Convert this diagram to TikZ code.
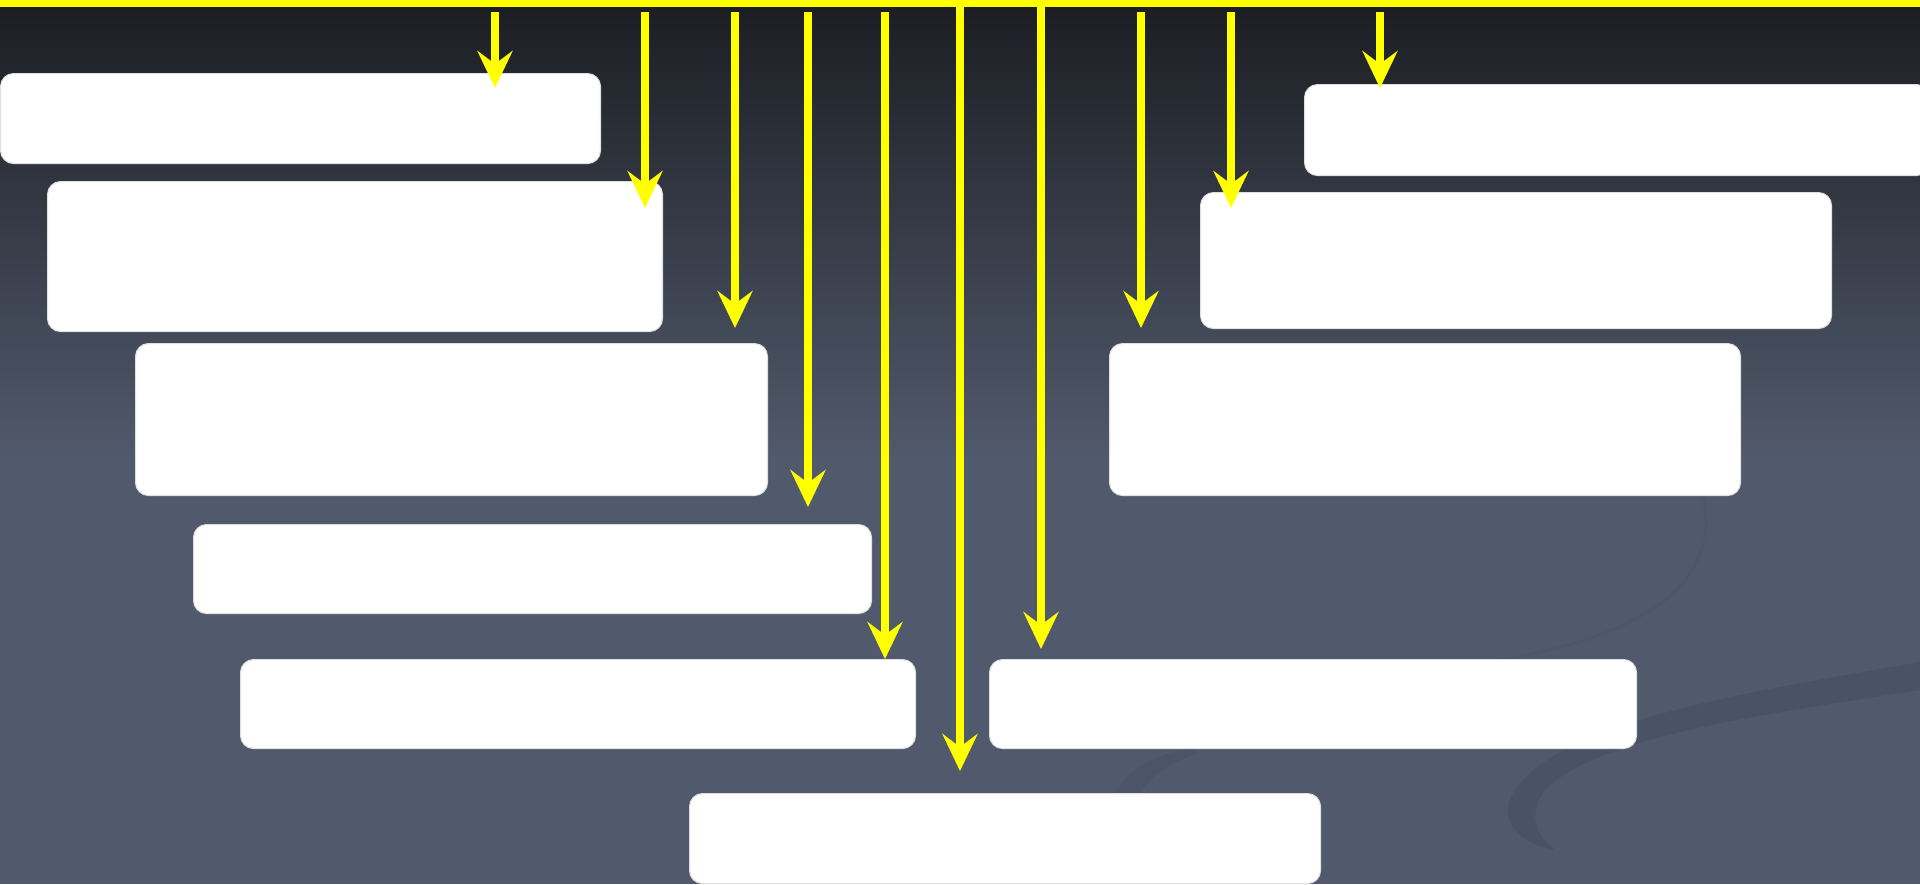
\documentclass[tikz,border=0pt]{standalone}
\usetikzlibrary{arrows.meta}
\definecolor{bgtop}{HTML}{1B1D22}
\definecolor{bgslate}{HTML}{515A6C}
\definecolor{swoosh}{HTML}{485064}
\definecolor{geel}{HTML}{FFFF00}
\tikzset{
  blok/.style={draw=black!12, line width=0.3pt, fill=white, rounded corners=1.3mm,
    anchor=north west, inner sep=0pt},
  pijl/.style={geel, line width=0.8mm, -{Stealth[length=3.7mm, width=3.5mm, inset=1.3mm]}}
}
\begin{document}
\begin{tikzpicture}[x=0.1mm, y=-0.1mm]
\useasboundingbox (0,0) rectangle (1920,884);
\clip (0,0) rectangle (1920,884);
% background
\fill[bgslate] (0,0) rectangle (1920,884);
\shade[top color=bgtop, bottom color=bgslate] (0,0) rectangle (1920,460);
\fill[swoosh, opacity=.7] (1920,662) .. controls (1760,690) and (1560,720) .. (1515,790)
  .. controls (1495,820) and (1520,845) .. (1555,850)
  .. controls (1535,835) and (1525,810) .. (1550,785)
  .. controls (1610,735) and (1760,715) .. (1920,690) -- cycle;
\fill[swoosh, opacity=.5] (1190,748) .. controls (1130,760) and (1105,790) .. (1110,830)
  -- (1130,830) .. controls (1130,795) and (1150,770) .. (1200,752) -- cycle;
\draw[swoosh, line width=0.3mm, opacity=.3] (1702,495) .. controls (1720,560) and (1680,630) .. (1500,660);
% boxes, left side
\node[blok, minimum width=60.0mm, minimum height=9.0mm] (boxA) at (0,73) {};
\node[blok, minimum width=61.5mm, minimum height=15.0mm] (boxB) at (47,181) {};
\node[blok, minimum width=63.2mm, minimum height=15.2mm] (boxC) at (135,343) {};
\node[blok, minimum width=67.8mm, minimum height=8.9mm] (boxD) at (193,524) {};
\node[blok, minimum width=67.5mm, minimum height=8.9mm] (boxE) at (240,659) {};
% bottom box
\node[blok, minimum width=63.1mm, minimum height=9.0mm] (boxF) at (689,793) {};
% boxes, right side
\node[blok, minimum width=64.7mm, minimum height=8.9mm] (boxG) at (989,659) {};
\node[blok, minimum width=63.1mm, minimum height=15.2mm] (boxH) at (1109,343) {};
\node[blok, minimum width=63.1mm, minimum height=13.6mm] (boxI) at (1200,192) {};
\node[blok, minimum width=62.5mm, minimum height=9.1mm] (boxJ) at (1304,84) {};
% top bar
\fill[geel] (0,0) rectangle (1920,7);
\coordinate (t1) at (495,12);
\coordinate (t2) at (645,12);
\coordinate (t3) at (735,12);
\coordinate (t4) at (808,12);
\coordinate (t5) at (885,12);
\coordinate (t6) at (960,0);
\coordinate (t7) at (1041,0);
\coordinate (t8) at (1141,12);
\coordinate (t9) at (1231,12);
\coordinate (t10) at (1380,12);
\draw[pijl, shorten >=-1.5mm] (t1) -- (t1 |- boxA.north);
\draw[pijl, shorten >=-2.7mm] (t2) -- (t2 |- boxB.north);
\draw[pijl, shorten >=1.5mm] (t3) -- (t3 |- boxC.north);
\draw[pijl, shorten >=1.7mm] (t4) -- (t4 |- boxD.north);
\draw[pijl] (t5) -- (t5 |- boxE.north);
\draw[pijl, shorten >=2.2mm] (t6) -- (t6 |- boxF.north);
\draw[pijl, shorten >=1.0mm] (t7) -- (t7 |- boxG.north);
\draw[pijl, shorten >=1.5mm] (t8) -- (t8 |- boxH.north);
\draw[pijl, shorten >=-1.6mm] (t9) -- (t9 |- boxI.north);
\draw[pijl, shorten >=-0.4mm] (t10) -- (t10 |- boxJ.north);
\end{tikzpicture}
\end{document}
